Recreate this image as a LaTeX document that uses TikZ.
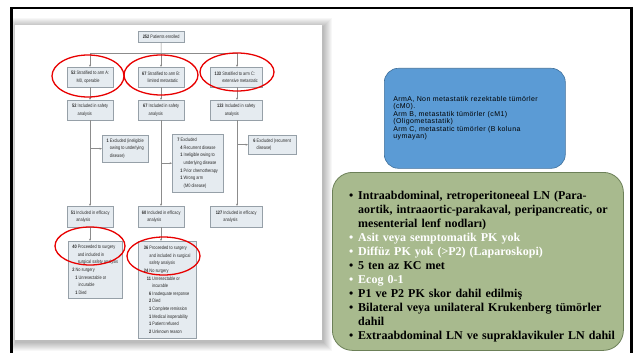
\documentclass[tikz,border=0pt]{standalone}
\usepackage{fontspec}
\setmainfont{Liberation Serif}
\newfontfamily\chartfont[FakeStretch=0.8]{Liberation Sans}
\newfontfamily\slidefont[LetterSpace=6]{Liberation Sans}
\usetikzlibrary{arrows.meta,calc}
\definecolor{boxfill}{RGB}{229,235,240}
\definecolor{boxline}{RGB}{150,160,168}
\definecolor{chartline}{RGB}{140,140,140}
\definecolor{charttext}{RGB}{45,45,45}
\definecolor{armblue}{RGB}{91,155,213}
\definecolor{armblueline}{RGB}{65,113,156}
\definecolor{critgreen}{RGB}{168,186,142}
\definecolor{critline}{RGB}{108,128,88}
\definecolor{ringred}{RGB}{232,0,0}
\newcommand{\nr}[1]{\textbf{#1}}
\newcommand{\ind}[1]{\hphantom{\nr{#1} }}
\newcommand{\critem}[2][black]{\par\noindent\hangindent=9pt\hangafter=1{\color{#1}\makebox[9pt][l]{\textbullet}#2}}
\tikzset{
  flowbox/.style={draw=boxline, fill=boxfill, line width=0.4pt, anchor=north west,
    inner xsep=1.5pt, inner ysep=0pt, align=left, text=charttext,
    font=\chartfont\fontsize{4.9}{7.6}\selectfont},
  flowline/.style={draw=chartline, line width=0.5pt},
  flowarrow/.style={flowline, -{Stealth[length=2.4pt,width=2pt]}},
  redring/.style={draw=ringred, line width=1.3pt},
}

\begin{document}
\begin{tikzpicture}[x=1pt,y=-1pt]
		%%%%% START %%%%%
		\useasboundingbox (0,0) rectangle (635,353);
		\fill[white] (0,0) rectangle (635,353);
		
		% shadow of the pasted chart
		\foreach \e in {1,...,9}
			\fill[black,opacity=0.03] (16-\e*0.6,27-\e) rectangle (323+\e,342+\e);
		\fill[white] (15,25) rectangle (322,340);
		
		% slide frame
		\draw[line width=3.5pt] (11.3,353) -- (11.3,7);
		\draw[line width=2.3pt] (10,8) -- (632.5,8);
		\draw[line width=2.5pt] (631.3,7) -- (631.3,353);
		
		% flow chart boxes
		\node[flowbox, minimum width=46pt, minimum height=11pt] (enrolled) at (138,31) {\nr{252} Patients enrolled};
		
		\node[flowbox, minimum width=46pt, minimum height=20pt] (armA) at (67,67) {\nr{52} Stratified to arm A:\\\ind{52}M0, operable};
		\node[flowbox, minimum width=46pt, minimum height=20pt] (armB) at (138,67) {\nr{67} Stratified to arm B:\\\ind{67}limited metastatic};
		\node[flowbox, minimum width=52pt, minimum height=20pt] (armC) at (210,67) {\nr{133} Stratified to arm C:\\\ind{133}extensive metastatic};
		
		\node[flowbox, minimum width=46pt, minimum height=20pt] (safeA) at (67,100) {\nr{52} Included in safety\\\ind{52}analysis};
		\node[flowbox, minimum width=46pt, minimum height=20pt] (safeB) at (138,100) {\nr{67} Included in safety\\\ind{67}analysis};
		\node[flowbox, minimum width=52pt, minimum height=20pt] (safeC) at (210,100) {\nr{133} Included in safety\\\ind{133}analysis};
		
		\node[flowbox, minimum width=46pt, minimum height=27pt] (exclA) at (102,135) {\nr{1} Excluded (ineligible\\\ind{1}owing to underlying\\\ind{1}disease)};
		\node[flowbox, minimum width=51pt, minimum height=58pt] (exclB) at (172,134) {\nr{7} Excluded\\
			\hspace*{3pt}\nr{4} Recurrent disease\\
			\hspace*{3pt}\nr{1} Ineligible owing to\\
			\hspace*{3pt}\ind{1}underlying disease\\
			\hspace*{3pt}\nr{1} Prior chemotherapy\\
			\hspace*{3pt}\nr{1} Wrong arm\\
			\hspace*{3pt}\ind{1}(M0 disease)};
		\node[flowbox, minimum width=48pt, minimum height=19pt] (exclC) at (248,135) {\nr{6} Excluded (recurrent\\\ind{6}disease)};
		
		\node[flowbox, minimum width=46pt, minimum height=21pt] (effA) at (67,206) {\nr{51} Included in efficacy\\\ind{51}analysis};
		\node[flowbox, minimum width=46pt, minimum height=21pt] (effB) at (138,206) {\nr{60} Included in efficacy\\\ind{60}analysis};
		\node[flowbox, minimum width=52pt, minimum height=21pt] (effC) at (210,206) {\nr{127} Included in efficacy\\\ind{127}analysis};
		
		\node[flowbox, minimum width=54pt, minimum height=57pt] (surgA) at (68,241) {\nr{40} Proceeded to surgery\\
			\ind{40}and included in\\
			\ind{40}surgical safety analysis\\
			\nr{2} No surgery\\
			\hspace*{3pt}\nr{1} Unresectable or\\
			\hspace*{3pt}\ind{1}incurable\\
			\hspace*{3pt}\nr{1} Died};
		\node[flowbox, minimum width=58pt, minimum height=97pt] (surgB) at (138,241) {\nr{36} Proceeded to surgery\\
			\ind{36}and included in surgical\\
			\ind{36}safety analysis\\
			\nr{24} No surgery\\
			\hspace*{3pt}\nr{11} Unresectable or\\
			\hspace*{3pt}\ind{11}incurable\\
			\hspace*{3pt}\hphantom{\nr{1}}\nr{6} Inadequate response\\
			\hspace*{3pt}\hphantom{\nr{1}}\nr{2} Died\\
			\hspace*{3pt}\hphantom{\nr{1}}\nr{1} Complete remission\\
			\hspace*{3pt}\hphantom{\nr{1}}\nr{1} Medical inoperability\\
			\hspace*{3pt}\hphantom{\nr{1}}\nr{1} Patient refused\\
			\hspace*{3pt}\hphantom{\nr{1}}\nr{2} Unknown reason};
		
		% connectors
		\coordinate (split) at (161,53);
		\coordinate (splitA) at (90,53);
		\coordinate (splitC) at (237,53);
		\draw[flowline] (enrolled.south) -- (split);
		\draw[flowline] (splitA) -- (splitC);
		\draw[flowarrow] (splitA) -- (splitA |- armA.north);
		\draw[flowarrow] (split) -- (split |- armB.north);
		\draw[flowarrow] (splitC) -- (splitC |- armC.north);
		
		\draw[flowarrow] (splitA |- armA.south) -- (splitA |- safeA.north);
		\draw[flowarrow] (split |- armB.south) -- (split |- safeB.north);
		\draw[flowarrow] (splitC |- armC.south) -- (splitC |- safeC.north);
		
		\draw[flowarrow] (splitA |- safeA.south) -- (splitA |- effA.north);
		\draw[flowarrow] (split |- safeB.south) -- (split |- effB.north);
		\draw[flowarrow] (splitC |- safeC.south) -- (splitC |- effC.north);
		
		\draw[flowarrow] (splitA |- exclA.west) -- (exclA.west);
		\draw[flowarrow] (split |- exclB.west) -- (exclB.west);
		\draw[flowarrow] (splitC |- exclC.west) -- (exclC.west);
		
		\draw[flowarrow] (splitA |- effA.south) -- (splitA |- surgA.north);
		\draw[flowarrow] (split |- effB.south) -- (split |- surgB.north);
		
		% red marks
		\draw[redring] (88,76) ellipse [x radius=36, y radius=21];
		\draw[redring] (161,75) ellipse [x radius=37, y radius=20];
		\draw[redring] (237,72) ellipse [x radius=37, y radius=19];
		\draw[redring] (90,246) ellipse [x radius=35, y radius=19];
		\draw[redring] (163.5,256) ellipse [x radius=36.5, y radius=19];
		
		% arm note
		\node[draw=armblueline, fill=armblue, line width=0.6pt, rounded corners=14pt, anchor=north west,
			minimum width=181pt, minimum height=100pt, inner xsep=9pt, text width=163pt, align=left,
			font=\slidefont\fontsize{7}{7.5}\selectfont] (armnote) at (384,68)
			{ArmA, Non metastatik rezektable tümörler\\(cM0).\\Arm B, metastatik tümörler (cM1)\\(Oligometastatik)\\Arm C, metastatic tümörler (B koluna\\uymayan)};
		
		% criteria
		\node[draw=critline, fill=critgreen, line width=0.8pt, rounded corners=20pt, anchor=north west,
			minimum width=291pt, minimum height=178pt] (criteria) at (332,172) {};
		\node[anchor=north west, inner sep=0pt, text width=275pt, align=left,
			font=\bfseries\fontsize{12}{14.05}\selectfont] (critlist) at (349,185)
			{\critem{Intraabdominal, retroperitoneeal LN (Para-\newline aortik, intraaortic-parakaval, peripancreatic, or\newline mesenterial lenf nodları)}
			\critem[white]{Asit veya semptomatik PK yok}
			\critem[white]{Diffüz PK yok (>P2) (Laparoskopi)}
			\critem{5 ten az KC met}
			\critem[white]{Ecog 0-1}
			\critem{P1 ve P2 PK skor dahil edilmiş}
			\critem{Bilateral veya unilateral Krukenberg tümörler\newline dahil}
			\critem{Extraabdominal LN ve supraklavikuler LN dahil}};
		
		%%%%% END %%%%%
\end{tikzpicture}
\end{document}
